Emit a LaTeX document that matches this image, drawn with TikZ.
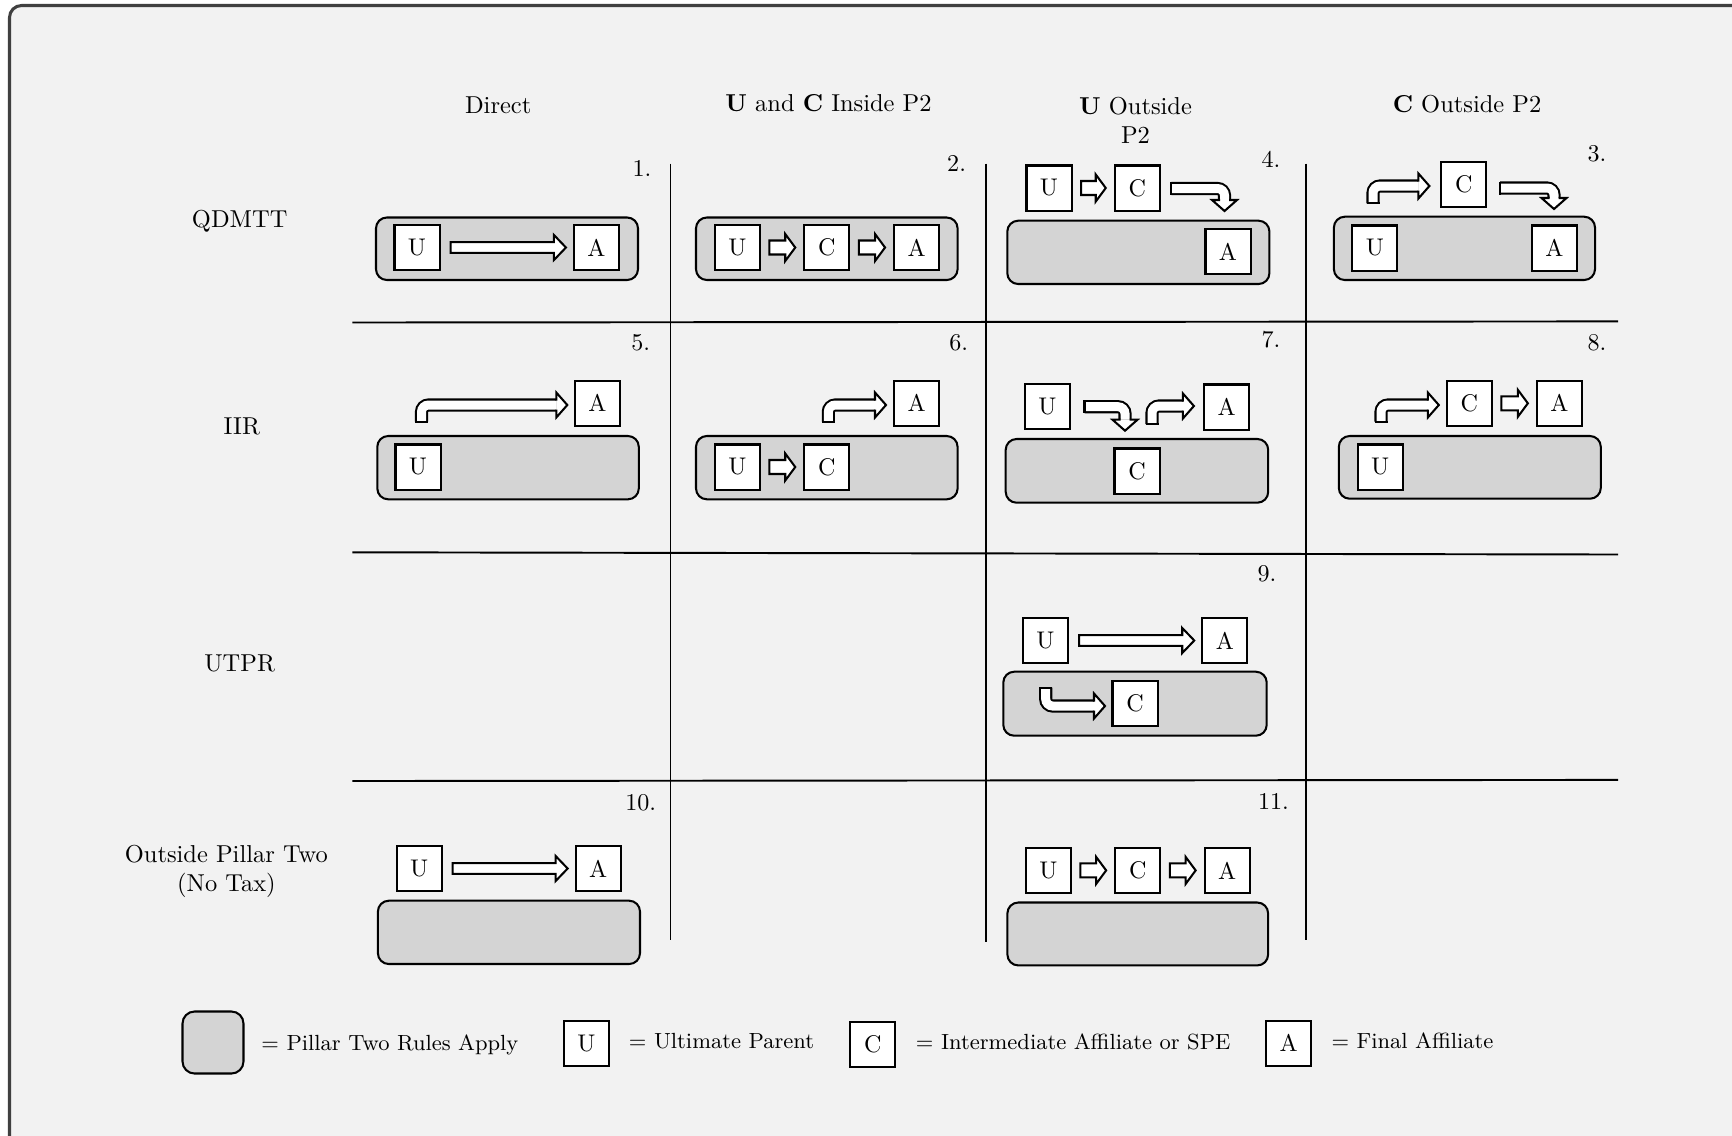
\documentclass[tikz,border=0pt]{standalone}
\usetikzlibrary{calc}
\definecolor{bgc}{HTML}{F2F2F2}
\definecolor{p2c}{HTML}{D4D4D4}
\definecolor{framec}{HTML}{404040}
\def\px{0.415pt}
\tikzset{
 ent/.style={draw, fill=white, line width=0.85pt, minimum width=18.7pt, minimum height=18.7pt, inner sep=0pt, font=\fontsize{10}{12}\selectfont},
 p2box/.style={draw, fill=p2c, line width=0.85pt, rounded corners=4.5pt},
 gridline/.style={line width=0.8pt},
 blk/.style={draw, fill=white, line width=0.85pt, line join=miter},
 headst/.style={fill=white, line width=0.85pt, line join=miter},
 tailst/.style={line width=0.85pt},
 shaft/.style={double=white, double distance=3.735pt, line width=0.85pt, rounded corners=2.9pt},
 lbl/.style={font=\fontsize{10.15}{12.2}\selectfont, align=center},
 num/.style={font=\fontsize{10}{12}\selectfont},
 leg/.style={font=\fontsize{9.1}{11}\selectfont, inner sep=0pt, anchor=base west},
}
\newcommand{\headR}[2]{%
 \filldraw[headst] ({#1-11},{#2-4.5}) -- ({#1-11},{#2-12.5}) -- (#1,#2) -- ({#1-11},{#2+12.5}) -- ({#1-11},{#2+4.5});}
\newcommand{\headD}[2]{%
 \filldraw[headst] ({#1-4.5},{#2-11}) -- ({#1-12.5},{#2-11}) -- (#1,#2) -- ({#1+12.5},{#2-11}) -- ({#1+4.5},{#2-11});}
\newcommand{\vhArrow}[4]{%
 \draw[shaft] (#1,#2) -- (#1,#3) -- ({#4-11},#3);
 \draw[tailst] ({#1-6.5},#2) -- ({#1+6.5},#2);
 \headR{#4}{#3}}
\newcommand{\hvArrow}[4]{%
 \draw[shaft] (#1,#2) -- (#3,#2) -- (#3,{#4-11});
 \draw[tailst] (#1,{#2-6.5}) -- (#1,{#2+6.5});
 \headD{#3}{#4}}
\newcommand{\barrow}[7]{%
 \draw[blk] let \p1=($(#1.east)+(#3,0)$), \p2=($(#2.west)-(#4,0)$) in
 (\x1,{\y1+#5*\px}) -- ({\x2-#7*\px},{\y1+#5*\px}) -- ({\x2-#7*\px},{\y1+#6*\px}) -- (\x2,\y1)
 -- ({\x2-#7*\px},{\y1-#6*\px}) -- ({\x2-#7*\px},{\y1-#5*\px}) -- (\x1,{\y1-#5*\px}) -- cycle;}
\newcommand{\longarrow}[2]{\barrow{#1}{#2}{10}{7}{5.3}{12.5}{12}}
\newcommand{\smallarrow}[2]{\barrow{#1}{#2}{8.5}{8}{7}{13.5}{10}}
\begin{document}
\begin{tikzpicture}[x=0.415pt,y=-0.415pt]
\useasboundingbox (0,0) rectangle (1732,1135);
\fill[white] (0,0) rectangle (1732,1135);
\draw[framec, line width=1.25pt, fill=bgc, rounded corners=5pt] (9.5,5.5) rectangle (1750,1150);

% headers
\node[lbl] (h1) at (498.2,105) {Direct};
\node[lbl] (h2) at (828.5,103) {\textbf{U} and \textbf{C} Inside P2};
\node[lbl] (h3) at (1135.5,120.5) {\textbf{U} Outside\\P2};
\node[lbl] (h4) at (1467,104) {\textbf{C} Outside P2};
% row labels
\node[lbl] (r1) at (239.7,220.9) {QDMTT};
\node[lbl] (r2) at (241.9,426.4) {IIR};
\node[lbl] (r3) at (239.7,663.9) {UTPR};
\node[lbl] (r4) at (226.4,871.6) {Outside Pillar Two\\(No Tax)};

% grid
\draw[gridline] (352.4,322.5) -- (1618,321.4);
\draw[gridline] (352.4,552.3) -- (1618,554.5);
\draw[gridline] (352.4,781) -- (1618,779.9);
\draw[gridline] (670.5,163.5) -- (670.5,940);
\draw[gridline] (986.4,163.5) -- (986.4,942.3);
\draw[gridline] (1305.6,163.5) -- (1305.6,940);

% numbers
\node[num] (n1) at (642,168) {1.};
\node[num] (n2) at (956.6,163.5) {2.};
\node[num] (n4) at (1271,159) {4.};
\node[num] (n3) at (1597,153.5) {3.};
\node[num] (n5) at (640.7,342.4) {5.};
\node[num] (n6) at (958.8,342.4) {6.};
\node[num] (n7) at (1271,340) {7.};
\node[num] (n8) at (1597,342.4) {8.};
\node[num] (n9) at (1267,574) {9.};
\node[num] (n10) at (640.7,803) {10.};
\node[num] (n11) at (1273.5,801) {11.};

% containers
\draw[p2box] (376,217.5) rectangle (638,280);
\draw[p2box] (696,217.5) rectangle (957.6,280);
\draw[p2box] (1007.3,220.7) rectangle (1269.4,284);
\draw[p2box] (1333.9,216.7) rectangle (1595,280);
\draw[p2box] (377.3,436) rectangle (638.8,499.3);
\draw[p2box] (696,436) rectangle (957.6,499.3);
\draw[p2box] (1005.7,439) rectangle (1268.2,502.7);
\draw[p2box] (1338.8,436) rectangle (1600.8,498.7);
\draw[p2box] (1003.3,671.7) rectangle (1266.7,735.7);
\draw[p2box] (377.9,900.7) rectangle (640,964);
\draw[p2box] (1007.4,902.5) rectangle (1268.1,965.4);

% cell 1
\node[ent] (u1) at (417,247.5) {U};
\node[ent] (a1) at (596.5,247.5) {A};
\longarrow{u1}{a1}
% cell 2
\node[ent] (u2) at (737.3,247.5) {U};
\node[ent] (c2) at (826.8,247.5) {C};
\node[ent] (a2) at (916.6,247.5) {A};
\smallarrow{u2}{c2}
\smallarrow{c2}{a2}
% cell 4
\node[ent] (u4) at (1049,188) {U};
\node[ent] (c4) at (1137.3,188) {C};
\node[ent] (a4) at (1228,251.8) {A};
\smallarrow{u4}{c4}
\hvArrow{1171.4}{188.5}{1224.5}{211}
% cell 3
\node[ent] (u3) at (1374.9,248) {U};
\node[ent] (a3) at (1554.3,248) {A};
\node[ent] (c3) at (1463.9,184.3) {C};
\vhArrow{1373}{203.3}{186}{1429.4}
\hvArrow{1500}{188}{1554}{209}
% cell 5
\node[ent] (u5) at (418,467) {U};
\node[ent] (a5) at (597.4,403.3) {A};
\vhArrow{421.5}{421.7}{405}{567.3}
% cell 6
\node[ent] (u6) at (737.3,467) {U};
\node[ent] (c6) at (826.8,467) {C};
\node[ent] (a6) at (916.6,403.3) {A};
\smallarrow{u6}{c6}
\vhArrow{828.3}{421.7}{405}{886}
% cell 7
\node[ent] (u7) at (1047.3,406.7) {U};
\node[ent] (a7) at (1226.7,407) {A};
\node[ent] (c7) at (1137,471) {C};
\hvArrow{1084.5}{406.7}{1125}{430.7}
\vhArrow{1152}{424}{406}{1193.9}
% cell 8
\node[ent] (u8) at (1380.2,467) {U};
\node[ent] (c8) at (1469.2,403.3) {C};
\node[ent] (a8) at (1559.4,403.3) {A};
\smallarrow{c8}{a8}
\vhArrow{1381}{421.7}{405}{1438.8}
% cell 9
\node[ent] (u9) at (1045.5,640.5) {U};
\node[ent] (a9) at (1224.8,640.5) {A};
\node[ent] (c9) at (1135,703.7) {C};
\longarrow{u9}{a9}
\vhArrow{1045.7}{687.7}{706}{1105}
% cell 10
\node[ent] (u10) at (419.1,868.5) {U};
\node[ent] (a10) at (598.2,868.5) {A};
\longarrow{u10}{a10}
% cell 11
\node[ent] (u11) at (1048.3,870.4) {U};
\node[ent] (c11) at (1137.7,870.4) {C};
\node[ent] (a11) at (1227.2,870.4) {A};
\smallarrow{u11}{c11}
\smallarrow{c11}{a11}

% legend
\draw[p2box, rounded corners=5pt] (182.5,1011.5) rectangle (243.5,1073.5);
\node[leg] (lt1) at (261,1050) {= Pillar Two Rules Apply};
\node[ent] (lu) at (586.3,1043.7) {U};
\node[leg] (lt2) at (628.5,1048.5) {= Ultimate Parent};
\node[ent] (lc) at (872.8,1044.5) {C};
\node[leg] (lt3) at (915.5,1049.5) {= Intermediate Affiliate or SPE};
\node[ent] (la) at (1288.6,1043.3) {A};
\node[leg] (lt4) at (1331,1048) {= Final Affiliate};
\end{tikzpicture}
\end{document}
